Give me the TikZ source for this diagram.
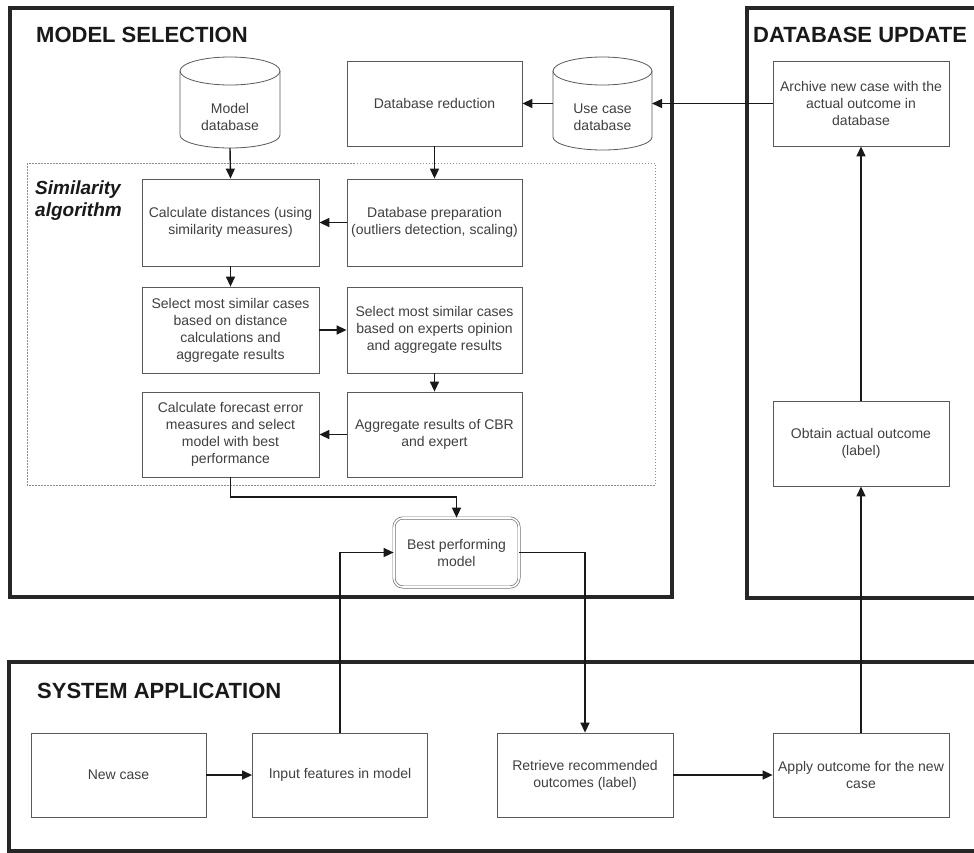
\documentclass[tikz,border=0pt]{standalone}
\usepackage{fontspec}
\setmainfont{Liberation Sans}
\usetikzlibrary{arrows.meta}
\begin{document}
\begin{tikzpicture}[x=1pt,y=-1pt,
  frame/.style={draw=black!85, line width=3.2pt},
  box/.style={draw=black!65, line width=0.8pt, fill=white, text=black!75,
    font=\fontsize{14}{17}\selectfont, align=center, inner sep=0pt},
  cylbody/.style={draw=black!65, line width=0.8pt, fill=white},
  cyltxt/.style={text=black!75, font=\fontsize{14}{17}\selectfont, align=center, inner sep=0pt},
  geom/.style={inner sep=0pt, outer sep=0pt},
  arr/.style={draw=black!90, line width=1.4pt, -{Triangle[length=10pt,width=9pt]}},
  ttl/.style={font=\fontsize{22}{26}\selectfont\bfseries, text=black!90, anchor=base west, inner sep=0pt},
]
\useasboundingbox (0,0) rectangle (974,852);
\clip (0,0) rectangle (974,852);
\fill[white] (0,0) rectangle (974,852);

% frames
\draw[frame] (10,8) rectangle (672,597);
\draw[frame] (990,8) -- (747,8) -- (747,598) -- (990,598);
\draw[frame] (990,662) -- (9,662) -- (9,851) -- (990,851);
\draw[draw=black!45, line width=0.8pt, dash pattern=on 1.5pt off 1.5pt] (27,163) rectangle (655,485);

% titles
\node[ttl] (t1) at (36,42) {MODEL SELECTION};
\node[ttl] (t2) at (753,42) {DATABASE UPDATE};
\node[ttl] (t3) at (37,698) {SYSTEM APPLICATION};
\node[font=\fontsize{19}{22}\selectfont\bfseries\itshape, text=black!90, anchor=north west, align=left, inner sep=0pt] (simtxt) at (35,181) {Similarity\\algorithm};

% cylinders
\draw[cylbody] (180,71) -- (180,135) arc[start angle=180,end angle=360,x radius=50pt,y radius=13pt] -- (280,71) arc[start angle=0,end angle=180,x radius=50pt,y radius=14pt] -- cycle;
\draw[cylbody] (180,71) arc[start angle=180,end angle=360,x radius=50pt,y radius=14pt];
\node[geom, minimum width=100pt, minimum height=91pt] (mdb) at (230,102.5) {};
\node[cyltxt] (mdbt) at (230,117) {Model\\database};

\draw[cylbody] (553,71) -- (553,137) arc[start angle=180,end angle=360,x radius=49.5pt,y radius=13pt] -- (652,71) arc[start angle=0,end angle=180,x radius=49.5pt,y radius=14pt] -- cycle;
\draw[cylbody] (553,71) arc[start angle=180,end angle=360,x radius=49.5pt,y radius=14pt];
\node[geom, minimum width=99pt, minimum height=93pt] (ucdb) at (602.5,103.5) {};
\node[cyltxt] (ucdbt) at (602.5,117.5) {Use case\\database};

% boxes
\node[box, minimum width=175pt, minimum height=85pt] (dbred) at (434.5,103.5) {Database reduction};
\node[box, minimum width=176pt, minimum height=85pt] (archive) at (861,103.5) {Archive new case with the\\actual outcome in\\database};
\node[box, minimum width=177pt, minimum height=87pt] (calc) at (230.5,222.5) {Calculate distances (using\\similarity measures)};
\node[box, minimum width=175pt, minimum height=87pt] (prep) at (434.5,222.5) {Database preparation\\(outliers detection, scaling)};
\node[box, minimum width=177pt, minimum height=86pt] (sel1) at (230.5,330) {Select most similar cases\\based on distance\\calculations and\\aggregate results};
\node[box, minimum width=175pt, minimum height=86pt] (sel2) at (434.5,330) {Select most similar cases\\based on experts opinion\\and aggregate results};
\node[box, minimum width=177pt, minimum height=85pt] (fore) at (230.5,434.5) {Calculate forecast error\\measures and select\\model with best\\performance};
\node[box, minimum width=175pt, minimum height=85pt] (agg) at (434.5,434.5) {Aggregate results of CBR\\and expert};
\node[box, minimum width=176pt, minimum height=85pt] (obtain) at (861,443.5) {Obtain actual outcome\\(label)};
\node[box, rounded corners=9pt, draw=black!55, line width=0.7pt, double=white, double distance=1.6pt, minimum width=125pt, minimum height=69pt] (best) at (456.5,552.5) {Best performing\\model};
\node[box, minimum width=175pt, minimum height=84pt] (newcase) at (118.5,775) {New case};
\node[box, minimum width=175pt, minimum height=84pt] (input) at (340,775) {Input features in model};
\node[box, minimum width=176pt, minimum height=84pt] (retrieve) at (585,775) {Retrieve recommended\\outcomes (label)};
\node[box, minimum width=176pt, minimum height=84pt] (apply) at (861,775) {Apply outcome for the new\\case};

% connectors
\draw[arr] (mdb.south) -- (calc.north);
\draw[arr] (dbred.south) -- (prep.north);
\draw[arr] (prep.west) -- (calc.east);
\draw[arr] (calc.south) -- (sel1.north);
\draw[arr] (sel1.east) -- (sel2.west);
\draw[arr] (sel2.south) -- (agg.north);
\draw[arr] (agg.west) -- (fore.east);
\draw[arr] (fore.south) -- ++(0,19.5) -| (best.north);
\draw[arr] (archive.west) -- (ucdb.east);
\draw[arr] (ucdb.west) -- (dbred.east);
\draw[arr] (newcase.east) -- (input.west);
\draw[arr] (input.north) |- (best.west);
\draw[arr] (best.east) -| (retrieve.north);
\draw[arr] (retrieve.east) -- (apply.west);
\draw[arr] (apply.north) -- (obtain.south);
\draw[arr] (obtain.north) -- (archive.south);
\end{tikzpicture}
\end{document}
